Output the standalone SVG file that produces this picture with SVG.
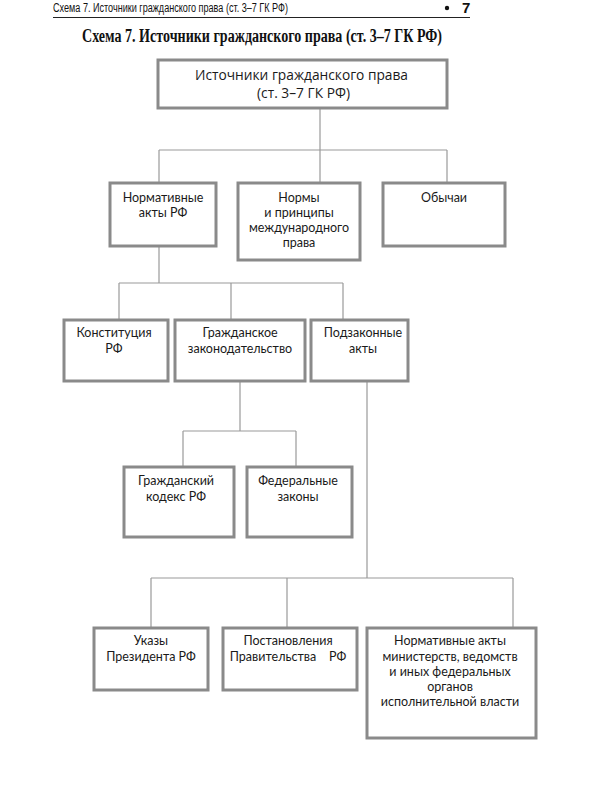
<svg xmlns="http://www.w3.org/2000/svg" width="600" height="800" viewBox="0 0 600 800">
<style>
.box{fill:#fff;stroke:#8a8a8a;stroke-width:3}
.t{font-family:Lato,"Open Sans",sans-serif;font-size:12.5px;fill:#1a1a1a;text-anchor:middle}
.r{font-family:"Open Sans",sans-serif;font-size:14px;fill:#1a1a1a;text-anchor:middle}
.c{fill:none;stroke:#9a9a9a;stroke-width:1.2}
</style>
<rect width="600" height="800" fill="#fff"/>
<g id="header">
<text x="53" y="12" font-family="Liberation Sans,sans-serif" font-size="12" textLength="235" lengthAdjust="spacingAndGlyphs" fill="#111">Схема 7. Источники гражданского права (ст. 3–7 ГК РФ)</text>
<circle cx="447" cy="8" r="2.2" fill="#111"/>
<text x="462" y="13" font-family="Liberation Sans,sans-serif" font-size="15" font-weight="bold" fill="#111">7</text>
<line x1="53" y1="17.5" x2="470" y2="17.5" stroke="#222" stroke-width="1"/>
</g>
<g id="title">
<text x="262" y="42" font-family="Liberation Serif,serif" font-size="18" font-weight="bold" text-anchor="middle" textLength="360" lengthAdjust="spacingAndGlyphs" fill="#111">Схема 7. Источники гражданского права (ст. 3–7 ГК РФ)</text>
</g>
<g id="connectors">
<path class="c" d="M320 108V150M159 150H447M159 150V183M320 150V183M447 150V183"/>
<path class="c" d="M159 246V283M119 283H343M119 283V320M231 283V320M343 283V320"/>
<path class="c" d="M240 381V431M183 431H296M183 431V467M296 431V467"/>
<path class="c" d="M367 381V578M151 578H513M151 578V628M287 578V628M513 578V628"/>
</g>
<g id="root">
<rect class="box" x="158" y="60" width="289" height="48"/>
<text class="r" x="301.5" y="80" textLength="213" lengthAdjust="spacingAndGlyphs">Источники гражданского права</text>
<text class="r" x="303.5" y="98" textLength="93" lengthAdjust="spacingAndGlyphs">(ст. 3–7 ГК РФ)</text>
</g>
<g id="normative">
<rect class="box" x="110" y="183" width="106" height="63"/>
<text class="t" x="163" y="202">Нормативные</text>
<text class="t" x="163" y="217">акты РФ</text>
</g>
<g id="international">
<rect class="box" x="238" y="183" width="122" height="77"/>
<text class="t" x="299" y="202">Нормы</text>
<text class="t" x="299" y="217">и принципы</text>
<text class="t" x="299" y="232">международного</text>
<text class="t" x="299" y="247">права</text>
</g>
<g id="customs">
<rect class="box" x="383" y="183" width="122" height="63"/>
<text class="t" x="444" y="202">Обычаи</text>
</g>
<g id="constitution">
<rect class="box" x="64" y="320" width="104" height="61"/>
<text class="t" x="114" y="337">Конституция</text>
<text class="t" x="114" y="353">РФ</text>
</g>
<g id="civil-legislation">
<rect class="box" x="175" y="320" width="130" height="61"/>
<text class="t" x="240" y="337">Гражданское</text>
<text class="t" x="240" y="353">законодательство</text>
</g>
<g id="bylaws">
<rect class="box" x="311" y="320" width="97" height="61"/>
<text class="t" x="363" y="337">Подзаконные</text>
<text class="t" x="363" y="353">акты</text>
</g>
<g id="civil-code">
<rect class="box" x="124" y="467" width="110" height="70"/>
<text class="t" x="176" y="485">Гражданский</text>
<text class="t" x="176" y="501">кодекс РФ</text>
</g>
<g id="federal-laws">
<rect class="box" x="247" y="467" width="105" height="70"/>
<text class="t" x="298" y="485">Федеральные</text>
<text class="t" x="298" y="501">законы</text>
</g>
<g id="decrees">
<rect class="box" x="94" y="628" width="114" height="62"/>
<text class="t" x="151" y="645">Указы</text>
<text class="t" x="151" y="661">Президента РФ</text>
</g>
<g id="resolutions">
<rect class="box" x="223" y="628" width="134" height="62"/>
<text class="t" x="288" y="645">Постановления</text>
<text class="t" x="288" y="661" xml:space="preserve">Правительства    РФ</text>
</g>
<g id="ministry-acts">
<rect class="box" x="367" y="628" width="169" height="110"/>
<text class="t" x="450" y="645">Нормативные акты</text>
<text class="t" x="450" y="661">министерств, ведомств</text>
<text class="t" x="450" y="676">и иных федеральных</text>
<text class="t" x="450" y="691">органов</text>
<text class="t" x="450" y="706">исполнительной власти</text>
</g>
</svg>
